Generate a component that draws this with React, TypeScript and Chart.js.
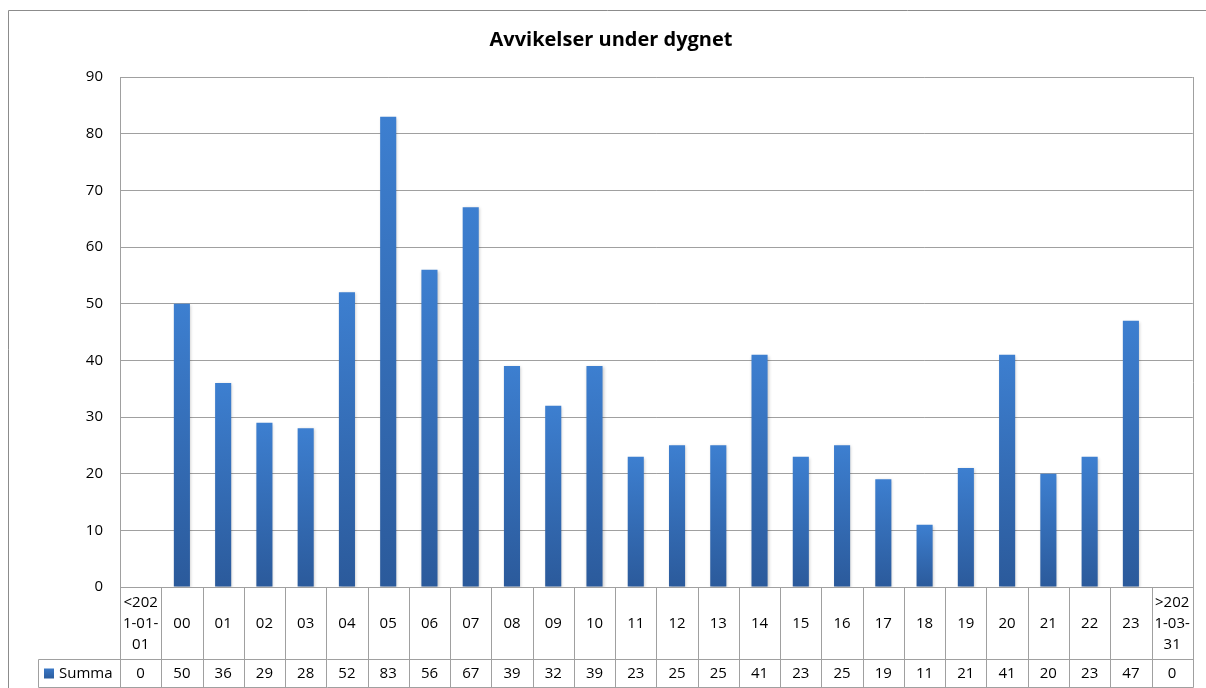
import React, { useEffect, useRef } from 'react';
import { Chart, registerables } from 'chart.js';

Chart.register(...registerables);

const chartTitle = 'Avvikelser under dygnet';
const seriesName = 'Summa';
const categories = [
  '<2021-01-01', '00', '01', '02', '03', '04', '05', '06', '07', '08', '09', '10', '11',
  '12', '13', '14', '15', '16', '17', '18', '19', '20', '21', '22', '23', '>2021-03-31',
];
const values = [0, 50, 36, 29, 28, 52, 83, 56, 67, 39, 32, 39, 23, 25, 25, 41, 23, 25, 19, 11, 21, 41, 20, 23, 47, 0];
const yMin = 0;
const yMax = 90;
const yStep = 10;
const wrappedLabels: Record<string, string[]> = {
  '<2021-01-01': ['<202', '1-01-', '01'],
  '>2021-03-31': ['>202', '1-03-', '31'],
};

const FONT = "'Open Sans', 'DejaVu Sans', sans-serif";
const LINE = '#a0a0a0';
const TEXT = '#000000';

const tablePlugin = {
  id: 'dataTable',
  afterDraw(chart: any) {
    const { ctx, chartArea, scales } = chart;
    const x = scales.x;
    const n = categories.length;
    const colW = (chartArea.right - chartArea.left) / n;
    const headerBottom = 659;
    const tableBottom = 687;
    const legendLeft = 38;
    ctx.save();
    // outer chart border
    ctx.strokeStyle = '#8c8c8c';
    ctx.lineWidth = 1;
    ctx.beginPath();
    ctx.moveTo(8.5, chart.height + 2);
    ctx.lineTo(8.5, 10.5);
    ctx.lineTo(chart.width + 2, 10.5);
    ctx.stroke();

    ctx.strokeStyle = LINE;
    ctx.beginPath();
    // plot right border
    const r = Math.round(chartArea.right) + 0.5;
    ctx.moveTo(r, chartArea.top);
    ctx.lineTo(r, tableBottom + 0.5);
    // left axis continuing down
    const l = Math.round(chartArea.left) + 0.5;
    ctx.moveTo(l, chartArea.bottom);
    ctx.lineTo(l, tableBottom + 0.5);
    // column separators
    for (let i = 1; i < n; i++) {
      const px = Math.round(chartArea.left + i * colW) + 0.5;
      ctx.moveTo(px, chartArea.bottom);
      ctx.lineTo(px, tableBottom + 0.5);
    }
    // row separators
    ctx.moveTo(legendLeft + 0.5, headerBottom + 0.5);
    ctx.lineTo(r, headerBottom + 0.5);
    ctx.moveTo(legendLeft + 0.5, tableBottom + 0.5);
    ctx.lineTo(r, tableBottom + 0.5);
    ctx.moveTo(legendLeft + 0.5, headerBottom + 0.5);
    ctx.lineTo(legendLeft + 0.5, tableBottom + 0.5);
    ctx.stroke();

    // values row
    const rowY = (headerBottom + tableBottom) / 2 + 0.5;
    ctx.font = `15px ${FONT}`;
    ctx.fillStyle = TEXT;
    ctx.textAlign = 'center';
    ctx.textBaseline = 'middle';
    values.forEach((v, i) => {
      ctx.fillText(String(v), x.getPixelForValue(i), rowY);
    });
    // legend key
    const grad = ctx.createLinearGradient(0, rowY - 5, 0, rowY + 5);
    grad.addColorStop(0, '#3a78c6');
    grad.addColorStop(1, '#2c5d9e');
    ctx.fillStyle = grad;
    ctx.fillRect(44, rowY - 5, 10, 10);
    ctx.fillStyle = TEXT;
    ctx.textAlign = 'left';
    ctx.fillText(seriesName, 59, rowY);
    ctx.restore();
  },
};

const shadowPlugin = {
  id: 'barShadow',
  beforeDatasetsDraw(chart: any) {
    const ctx = chart.ctx;
    ctx.save();
    ctx.shadowColor = 'rgba(0,0,0,0.22)';
    ctx.shadowBlur = 3;
    ctx.shadowOffsetX = 1;
    ctx.shadowOffsetY = 1;
  },
  afterDatasetsDraw(chart: any) {
    chart.ctx.restore();
  },
};

export default function App() {
  const ref = useRef<HTMLCanvasElement | null>(null);

  useEffect(() => {
    if (!ref.current) return;
    const chart = new Chart(ref.current, {
      type: 'bar',
      data: {
        labels: categories,
        datasets: [
          {
            label: seriesName,
            data: values,
            backgroundColor: (c: any) => {
              const chartObj = c.chart;
              const ys = chartObj.scales?.y;
              if (!ys || c.type !== 'data') return '#3470b8';
              const top = ys.getPixelForValue(c.raw ?? 0);
              const base = ys.getPixelForValue(0);
              if (!isFinite(top) || !isFinite(base) || base - top < 1) return '#3470b8';
              const g = chartObj.ctx.createLinearGradient(0, top, 0, base);
              g.addColorStop(0, '#3d7fd0');
              g.addColorStop(1, '#2b5a9b');
              return g;
            },
            borderWidth: 0,
            barPercentage: 0.39,
            categoryPercentage: 1,
          },
        ],
      },
      options: {
        responsive: false,
        animation: false,
        layout: { padding: { left: 24, right: 8, top: 0, bottom: 0 } },
        plugins: {
          legend: { display: false },
          tooltip: { enabled: false },
          title: {
            display: true,
            text: chartTitle,
            color: '#000000',
            font: { family: FONT, size: 20, weight: 'bold', lineHeight: 1.2 },
            padding: { top: 28, bottom: 25 },
          },
        },
        scales: {
          x: {
            grid: { display: false, drawTicks: false },
            border: { display: true, color: LINE, width: 1 },
            ticks: {
              color: TEXT,
              font: { family: FONT, size: 15, lineHeight: 1.4 },
              maxRotation: 0,
              minRotation: 0,
              autoSkip: false,
              crossAlign: 'center',
              padding: 16,
              callback: (_v: any, i: number) => wrappedLabels[categories[i]] ?? categories[i],
            },
            afterFit: (s: any) => {
              s.height = 101;
            },
          },
          y: {
            min: yMin,
            max: yMax,
            grid: { color: LINE, drawTicks: false, lineWidth: 1 },
            border: { display: true, color: LINE, width: 1 },
            ticks: {
              stepSize: yStep,
              color: TEXT,
              font: { family: FONT, size: 15 },
              padding: 17,
            },
            afterFit: (s: any) => {
              s.width = 96;
            },
          },
        },
      },
      plugins: [shadowPlugin, tablePlugin],
    });
    return () => chart.destroy();
  }, []);

  return (
    <canvas
      ref={ref}
      width={1206}
      height={688}
      style={{ position: 'fixed', left: 0, top: 0, width: 1206, height: 688, background: '#ffffff' }}
    />
  );
}
